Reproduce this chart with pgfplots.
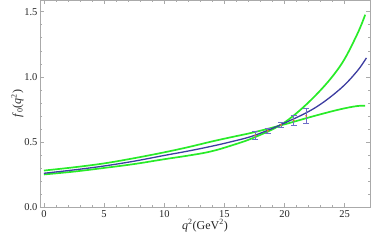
\documentclass[border=0pt]{standalone}
\usepackage{pgfplots}
\pgfplotsset{compat=1.18}
\usepackage{fontspec}
\setmainfont{Liberation Serif}
\definecolor{mgreen}{RGB}{40,235,40}
\definecolor{mblue}{RGB}{60,60,160}
\definecolor{ebar}{RGB}{110,110,200}
\definecolor{framec}{RGB}{170,170,170}
\begin{document}
\begin{tikzpicture}
\begin{axis}[
  at={(0,0)}, anchor=south west,
  scale only axis, width=330pt, height=207pt,
  xmin=-0.33, xmax=27.1, ymin=0, ymax=1.59,
  axis line style={framec, line width=0.6pt},
  tick style={framec, line width=0.5pt},
  tick align=inside,
  major tick length=4pt, minor tick length=2pt,
  xtick={0,5,10,15,20,25},
  minor x tick num=4,
  ytick={0,0.5,1,1.5},
  minor y tick num=4,
  yticklabel style={/pgf/number format/fixed, /pgf/number format/fixed zerofill, /pgf/number format/precision=1, xshift=1pt},
  /pgf/number format/assume math mode=true,
  ticklabel style={font=\fontsize{10.5}{12}\selectfont, text=black!85},
  xlabel={\textit{q}\textsuperscript{2}(GeV\textsuperscript{2})},
  ylabel={\textit{f}\textsubscript{0}(\textit{q}\textsuperscript{2})},
  label style={font=\fontsize{12}{14}\selectfont, text=black!85},
  xlabel shift=-5pt,
  ylabel shift=-6pt,
]
% flat green
\addplot[mgreen, line width=1.7pt, smooth, tension=0.6] coordinates {
(0,0.28) (2.5,0.305) (5,0.335) (7.5,0.375) (10,0.42) (12,0.46) (13.8,0.50) (15.5,0.535) (17.5,0.575) (20,0.635) (22.5,0.70) (24.6,0.75) (26,0.775) (26.7,0.777)};
% steep green
\addplot[mgreen, line width=1.7pt, smooth, tension=0.6] coordinates {
(0,0.25) (2.5,0.272) (5,0.30) (7.5,0.33) (10,0.367) (12,0.395) (13.8,0.425) (15.5,0.47) (17.5,0.535) (20,0.65) (22.5,0.85) (24.6,1.08) (26,1.32) (26.7,1.477)};
% blue central
\addplot[mblue, line width=1.3pt, smooth, tension=0.6] coordinates {
(0,0.259) (2.5,0.285) (5,0.315) (7.5,0.352) (10,0.396) (12,0.43) (13.8,0.464) (15.5,0.50) (17.5,0.55) (20,0.645) (22.5,0.76) (24.6,0.905) (26,1.04) (26.8,1.145)};
% error bars
\addplot[only marks, mark=*, mark size=0.8pt, color=brown!70!orange,
  error bars/.cd, y dir=both, y explicit,
  error bar style={ebar, line width=0.8pt}, error mark options={rotate=90, mark size=3pt, ebar, line width=0.8pt}]
coordinates {
(17.57,0.55) +- (0,0.029)
(18.6,0.586) +- (0,0.019)
(19.7,0.631) +- (0,0.018)
(20.76,0.665) +- (0,0.042)
(21.8,0.70) +- (0,0.058)};
\end{axis}
\pgfresetboundingbox
\useasboundingbox (-40pt,-38pt) rectangle (334pt,207pt);
\end{tikzpicture}
\end{document}
